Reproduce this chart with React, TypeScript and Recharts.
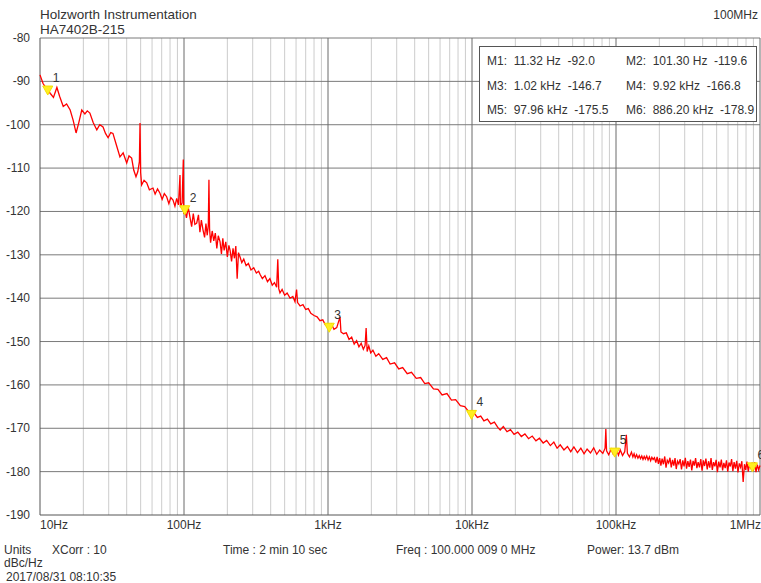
import { LineChart, Line, XAxis, YAxis, ReferenceLine, ReferenceDot } from "recharts";

const decade1Hz = [10, 10.5, 11, 11.32, 11.8, 12.4, 13.1, 13.7, 14.5, 15.3, 16.2, 17.0, 17.8, 18.6, 19.5, 20.5, 21.3, 22.2, 23.4, 24.8, 26.0, 27.4, 28.5, 29.7, 31.0, 32.1, 33.8, 35.9, 37.8, 40.0, 41.5, 43.3, 44.8, 46.4, 47.8, 49.0, 49.5, 50.0, 50.8, 52.8, 55.1, 57.5, 60.9, 63.0, 65.5, 68.1, 70.5, 73.0, 75.8, 78.5, 81.0, 83.9, 86.5, 89.0, 91.5, 93.8, 94.5, 97.0, 98.9, 99.5];
const decade1Dbc = [-88.5, -90.5, -91.5, -92.0, -92.8, -93.7, -91.4, -93.5, -95.8, -95.2, -96.6, -99.0, -101.9, -99.5, -96.6, -97.5, -96.8, -97.3, -99.5, -101.2, -100.0, -100.5, -102.0, -103.0, -101.8, -102.0, -104.5, -107.4, -106.5, -108.8, -107.2, -107.7, -110.5, -112.0, -110.8, -108.5, -99.6, -111.0, -113.9, -112.8, -113.4, -115.0, -114.6, -116.0, -114.8, -115.8, -117.2, -115.9, -116.6, -118.2, -116.8, -117.4, -118.8, -117.0, -118.5, -111.6, -119.0, -118.0, -108.0, -120.5];

const decade2Hz = [101.3, 104, 107, 110, 113, 116, 119, 122.5, 126, 129, 132, 135.6, 139, 142, 145, 147.5, 149, 150.5, 153, 157, 161, 165, 169, 173, 178, 182, 186, 190, 195, 200, 205, 209, 214, 219, 224, 229, 234, 239, 245, 252, 260, 270, 280, 292, 305, 318, 330, 337, 350, 365, 380, 395, 410, 425, 440, 448, 455, 464, 480, 500, 520, 545, 570, 590, 605, 615, 640, 670, 700, 730, 760, 800, 840, 880, 920, 960];
const decade2Dbc = [-119.6, -121.5, -119.0, -121.3, -123.5, -120.5, -123.0, -122.7, -120.8, -124.8, -122.0, -124.3, -126.0, -122.8, -125.5, -123.2, -112.7, -124.0, -127.2, -124.5, -126.8, -125.0, -128.5, -125.6, -127.0, -129.8, -126.2, -129.0, -127.0, -130.5, -127.8, -129.0, -131.5, -128.5, -130.8, -128.0, -135.5, -129.5, -130.5, -131.8, -131.0, -132.5, -132.0, -133.5, -133.0, -134.2, -133.8, -134.5, -135.5, -134.8, -136.2, -135.5, -137.0, -136.4, -137.5, -131.0, -137.8, -138.8, -138.0, -139.3, -138.8, -140.0, -139.6, -140.8, -138.0, -141.0, -141.8, -141.5, -142.6, -142.4, -143.5, -144.0, -144.3, -145.2, -145.0, -146.2];

const decade3Hz = [1020, 1060, 1100, 1150, 1212, 1230, 1280, 1340, 1400, 1460, 1520, 1580, 1640, 1700, 1760, 1810, 1840, 1870, 1920, 1980, 2050, 2150, 2250, 2400, 2550, 2700, 2900, 3100, 3300, 3550, 3800, 4100, 4400, 4700, 5000, 5400, 5800, 6200, 6700, 7200, 7700, 8300, 8900, 9400];
const decade3Dbc = [-146.7, -146.0, -147.2, -146.8, -144.3, -147.8, -148.2, -148.0, -149.5, -149.0, -150.6, -149.8, -151.2, -150.4, -151.8, -150.9, -146.9, -152.3, -151.0, -152.6, -152.0, -153.4, -152.8, -154.1, -153.7, -155.2, -154.9, -156.3, -156.0, -157.4, -157.1, -158.5, -158.3, -159.7, -159.5, -160.9, -161.0, -162.3, -162.0, -163.5, -163.4, -164.8, -165.0, -166.0];

const decade4Hz = [9920, 10400, 10900, 11500, 12100, 12800, 13500, 14300, 15100, 15700, 16500, 17500, 18500, 19600, 20800, 22000, 23300, 24700, 26200, 27800, 29400, 31200, 33000, 35000, 37000, 39000, 41000, 43500, 46000, 48500, 51000, 54000, 57000, 60000, 63000, 66500, 70000, 73500, 77000, 81000, 84000, 85000, 86000, 89000, 92500, 95500];
const decade4Dbc = [-166.8, -166.6, -167.5, -167.2, -168.3, -167.9, -169.0, -168.6, -169.8, -170.4, -169.6, -170.8, -170.3, -171.4, -170.9, -171.9, -171.3, -172.4, -171.8, -172.9, -172.3, -173.4, -172.8, -174.0, -173.2, -174.6, -173.8, -175.0, -174.2, -175.4, -174.3, -175.6, -174.6, -175.9, -174.8, -175.7, -174.5, -176.0, -175.0, -175.8, -174.6, -170.2, -175.2, -176.1, -174.8, -175.9];

const decade5Hz = [
  97960, 101000, 104000, 107000, 111000, 115000, 118000, 120000, 124000,
  128000, 131000, 133500, 136000, 139000, 142000, 145000, 148000, 151000, 154000,
  157000, 160000, 163500, 167000, 170500, 174000, 177500, 181000, 185000, 189000,
  193000, 197000, 201000, 205000, 209000, 213500, 218000, 222500, 227000, 232000,
  237000, 242000, 247000, 252000, 257000, 262000, 267500, 273000, 279000, 285000,
  291000, 297000, 303000, 309000, 315500, 322000, 329000, 336000, 343000, 350000,
  357000, 364500, 372000, 380000, 388000, 396000, 404000, 412000, 421000, 430000,
  439000, 448000, 457000, 466500, 476000, 486000, 496000, 506000, 517000, 528000,
  539000, 550000, 561000, 573000, 585000, 597000, 609000, 622000, 635000, 648000,
  661000, 675000, 689000, 703000, 718000, 733000, 748000, 764000, 780000, 796000,
  812000, 829000, 846000, 864000, 882000, 886200, 900000, 919000, 938000, 958000,
  978000, 1000000,
];
const decade5Dbc = [
  -175.5, -174.9, -176.2, -175.0, -176.3, -175.4, -171.5, -175.8, -176.6,
  -175.5, -176.6, -175.9, -176.8, -176.1, -176.9, -176.3, -177.0, -176.4, -177.2,
  -176.5, -177.1, -176.4, -177.3, -176.6, -177.5, -176.7, -177.2, -176.8, -177.9,
  -176.6, -178.2, -176.9, -178.6, -177.0, -178.3, -176.5, -179.1, -177.4, -178.0,
  -176.8, -179.0, -177.3, -178.6, -176.9, -179.4, -177.6, -178.2, -177.1, -179.5,
  -177.4, -178.8, -176.8, -179.3, -177.6, -178.9, -177.2, -179.7, -177.5, -178.6,
  -176.9, -179.2, -177.8, -179.0, -177.1, -179.8, -177.4, -178.7, -177.0, -179.5,
  -177.6, -179.1, -176.9, -179.6, -177.8, -178.8, -177.3, -180.1, -177.7, -179.0,
  -177.2, -179.7, -178.0, -179.2, -177.4, -180.0, -177.9, -178.8, -177.1, -179.9,
  -177.8, -179.3, -177.5, -180.2, -178.1, -179.0, -177.6, -182.4, -178.3, -179.6,
  -177.7, -180.0, -178.2, -179.4, -177.9, -178.9, -179.8, -177.8, -180.1, -178.4,
  -179.6, -178.6,
];

// markers M1..M6
const markerHz = [11.32, 101.3, 1020, 9920, 97960, 886200];
const markerDbc = [-92.0, -119.6, -146.7, -166.8, -175.5, -178.9];
const markerReadout = [
  "M1:  11.32 Hz  -92.0",
  "M2:  101.30 Hz  -119.6",
  "M3:  1.02 kHz  -146.7",
  "M4:  9.92 kHz  -166.8",
  "M5:  97.96 kHz  -175.5",
  "M6:  886.20 kHz  -178.9",
];

const decadeTicks = [10, 100, 1000, 10000, 100000, 1000000];
const decadeLabels = ["10Hz", "100Hz", "1kHz", "10kHz", "100kHz", "1MHz"];
const minorMultipliers = [2, 3, 4, 5, 6, 7, 8, 9];
const levelTicks = [-80, -90, -100, -110, -120, -130, -140, -150, -160, -170, -180, -190];

const allHz = [...decade1Hz, ...decade2Hz, ...decade3Hz, ...decade4Hz, ...decade5Hz];
const allDbc = [...decade1Dbc, ...decade2Dbc, ...decade3Dbc, ...decade4Dbc, ...decade5Dbc];
const trace = allHz.map((f, i) => ({ f, dbc: allDbc[i] }));

const minorHz = decadeTicks.slice(0, -1).flatMap((d) => minorMultipliers.map((m) => d * m));

const FONT = "'Liberation Sans', Arial, sans-serif";
const INK = "#333";

function FreqTick(props: any) {
  const { x, payload } = props;
  const i = decadeTicks.indexOf(payload.value);
  const anchor = i === 0 ? "start" : i === decadeTicks.length - 1 ? "end" : "middle";
  return (
    <text x={i === decadeTicks.length - 1 ? 761 : x} y={529} fontSize={12} fill={INK} fontFamily={FONT} textAnchor={anchor}>
      {decadeLabels[i]}
    </text>
  );
}

function LevelTick(props: any) {
  const { y, payload } = props;
  return (
    <text x={30} y={y + 4} fontSize={12} fill={INK} fontFamily={FONT} textAnchor="end">
      {payload.value}
    </text>
  );
}

function MarkerShape(props: any) {
  const { cx, cy, label } = props;
  return (
    <g>
      <polygon points={`${cx - 5},${cy - 4} ${cx + 5},${cy - 4} ${cx},${cy + 5}`} fill="#ffee22" stroke="#f5e000" strokeWidth={1} />
      <text x={cx + 5} y={cy - 8} fontSize={12} fill={INK} fontFamily={FONT}>
        {label}
      </text>
    </g>
  );
}

export default function App() {
  return (
    <div style={{ position: "absolute", left: 0, top: 0, width: 761, height: 583, background: "#fff", overflow: "hidden" }}>
      <LineChart width={761} height={583} data={trace} margin={{ top: 38, right: 1, bottom: 0, left: 0 }}>
        <XAxis
          dataKey="f"
          type="number"
          scale="log"
          domain={[10, 1000000]}
          ticks={decadeTicks}
          interval={0}
          height={68}
          axisLine={false}
          tickLine={false}
          tick={<FreqTick />}
        />
        <YAxis
          type="number"
          domain={[-190, -80]}
          ticks={levelTicks}
          interval={0}
          width={40}
          axisLine={false}
          tickLine={false}
          tick={<LevelTick />}
        />
        {minorHz.map((f) => (
          <ReferenceLine key={`m${f}`} x={f} stroke="#cccccc" strokeWidth={1} />
        ))}
        {levelTicks.map((v) => (
          <ReferenceLine key={`h${v}`} y={v} stroke={v === -190 ? "#555" : "#7a7a7a"} strokeWidth={1} />
        ))}
        {decadeTicks.map((f) => (
          <ReferenceLine key={`d${f}`} x={f} stroke={f === 10 ? "#555" : "#6a6a6a"} strokeWidth={1} />
        ))}
        <Line dataKey="dbc" type="linear" stroke="#ff0000" strokeWidth={1.3} dot={false} isAnimationActive={false} />
        {markerHz.map((f, i) => (
          <ReferenceDot
            key={`mk${i}`}
            x={f}
            y={markerDbc[i]}
            r={5}
            shape={(p: any) => <MarkerShape {...p} label={String(i + 1)} />}
          />
        ))}
      </LineChart>
      <svg width={761} height={583} style={{ position: "absolute", left: 0, top: 0, pointerEvents: "none" }} fontFamily={FONT}>
        <text x={40} y={19} fontSize={13.5} fill={INK}>Holzworth Instrumentation</text>
        <text x={40} y={34} fontSize={13.5} fill={INK}>HA7402B-215</text>
        <text x={758} y={19} fontSize={12} fill={INK} textAnchor="end">100MHz</text>
        <rect x={479.5} y={46.5} width={277} height={75} fill="#fff" stroke="#555" />
        {markerReadout.map((t, i) => (
          <text key={t} x={i % 2 === 0 ? 487 : 626} y={65 + Math.floor(i / 2) * 24.5} fontSize={12} fill={INK} style={{ whiteSpace: "pre" }}>
            {t}
          </text>
        ))}
        <text x={4} y={554} fontSize={12} fill={INK}>Units</text>
        <text x={52} y={554} fontSize={12} fill={INK}>XCorr : 10</text>
        <text x={223} y={554} fontSize={12} fill={INK}>Time : 2 min 10 sec</text>
        <text x={396} y={554} fontSize={12} fill={INK}>Freq : 100.000 009 0 MHz</text>
        <text x={587} y={554} fontSize={12} fill={INK}>Power: 13.7 dBm</text>
        <text x={4} y={566.5} fontSize={12} fill={INK}>dBc/Hz</text>
        <text x={6} y={581} fontSize={12} fill={INK}>2017/08/31 08:10:35</text>
      </svg>
    </div>
  );
}
